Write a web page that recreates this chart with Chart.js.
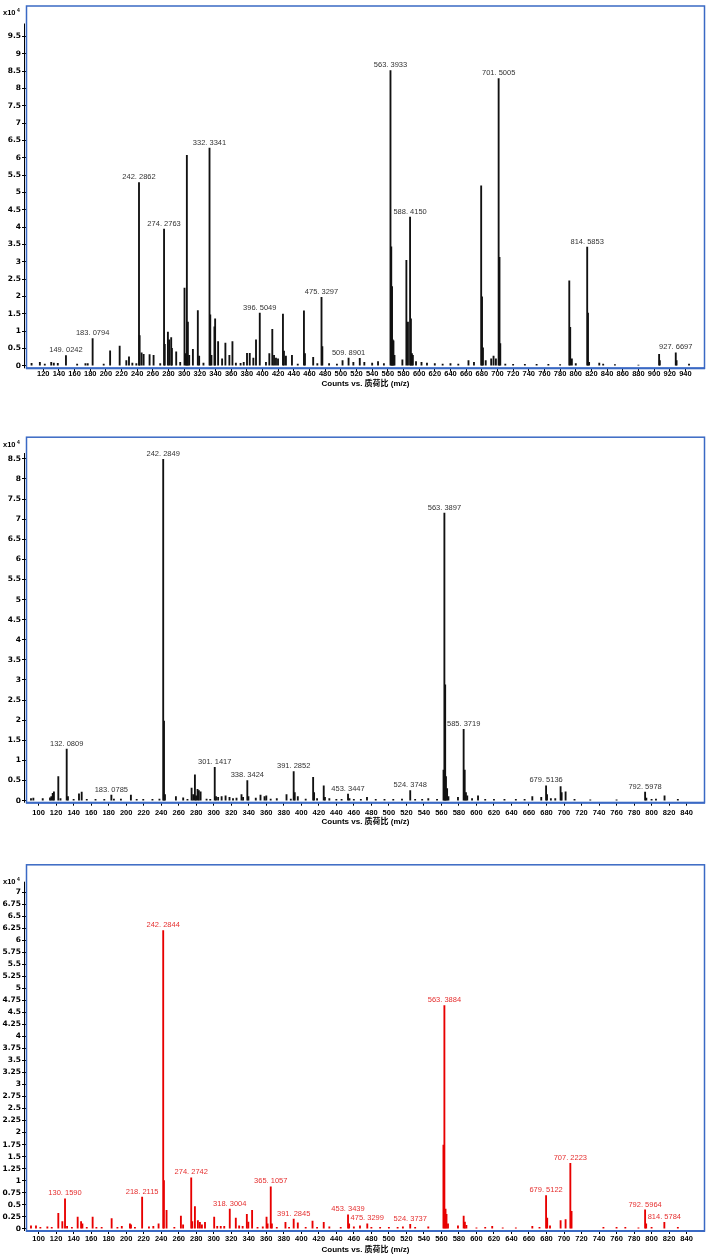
<!DOCTYPE html>
<html>
<head>
<meta charset="utf-8">
<script src="https://cdn.jsdelivr.net/npm/chart.js@4.4.1/dist/chart.umd.min.js"></script>
<style>
  html, body { margin: 0; padding: 0; background: #fff; }
  #page { position: relative; width: 709px; height: 1259px; }
  canvas { position: absolute; left: 0; }
</style>
</head>
<body>
<div id="page">
  <canvas id="ms1" width="709" height="395" style="top:0px"></canvas>
  <canvas id="ms2" width="709" height="435" style="top:395px"></canvas>
  <canvas id="ms3" width="709" height="429" style="top:830px"></canvas>
</div>
<script>
// ---- spectrum 1 (black, x up to ~960) ----
const mz1 = [105.1, 115.7, 122, 130.2, 133.5, 138.6, 149.0242, 163.3, 173.9, 176.8, 183.0794, 197.2, 205.4, 217.6,
  226.1, 229.5, 233.8, 238.9, 242.2862, 243.1, 245.6, 248.2, 255.8, 260.9, 269.4, 274.2763, 275.2, 279.2, 280.9,
  283.4, 284.3, 289.8, 294.9, 300.4, 302.2, 303.4, 304.7, 306.4, 311.1, 317.4, 319.1, 324.6, 332.3341, 333.3,
  334.8, 338.6, 339.5, 343.3, 348.4, 352.6, 357.7, 361.6, 366, 372, 376, 380.2, 383.7, 388.3, 391.7, 396.5049,
  404.4, 408.7, 412.5, 414.7, 417.2, 419.8, 426.1, 427.4, 429.9, 437.6, 445, 452.9, 454.2, 464.7, 470, 475.3297,
  476.4, 485, 495, 502.2, 509.8901, 516, 524.2, 530, 540, 547.5, 555, 563.3933, 564.4, 565.4, 566.3, 567.2,
  568.5, 578.6, 583.7, 585.7, 588.415, 589.5, 590.8, 592, 596, 603, 610, 620, 630, 640, 650, 663, 670, 679.2,
  680.3, 681.5, 685, 692, 695, 698, 701.5005, 702.6, 703.6, 710, 720, 735, 750, 765, 780, 791.7, 792.9, 795,
  800, 814.5853, 815.6, 817, 830, 835, 850, 880, 906.4, 907.3, 927.6697, 928.7, 944.6];
const int1 = [0.07, 0.1, 0.05, 0.1, 0.08, 0.07, 0.29, 0.05, 0.06, 0.06, 0.78, 0.05, 0.43, 0.57,
  0.15, 0.26, 0.08, 0.06, 5.28, 0.87, 0.37, 0.33, 0.32, 0.3, 0.06, 3.94, 0.62, 0.97, 0.75,
  0.81, 0.5, 0.4, 0.1, 2.24, 0.35, 6.07, 1.26, 0.3, 0.47, 1.59, 0.28, 0.08, 6.28, 1.47,
  0.3, 1.12, 1.35, 0.7, 0.2, 0.65, 0.3, 0.7, 0.08, 0.07, 0.1, 0.36, 0.36, 0.22, 0.75, 1.52,
  0.1, 0.35, 1.05, 0.3, 0.22, 0.2, 1.49, 0.42, 0.28, 0.3, 0.05, 1.58, 0.35, 0.24, 0.06, 1.97,
  0.55, 0.06, 0.05, 0.15, 0.22, 0.1, 0.21, 0.1, 0.08, 0.12, 0.06, 8.51, 3.43, 2.28, 0.75, 0.72,
  0.3, 0.17, 3.04, 1.26, 4.29, 1.35, 0.35, 0.3, 0.12, 0.1, 0.08, 0.06, 0.05, 0.06, 0.05, 0.15, 0.1, 5.19,
  1.99, 0.52, 0.15, 0.2, 0.28, 0.2, 8.28, 3.13, 0.64, 0.05, 0.04, 0.04, 0.04, 0.04, 0.03, 2.45, 1.11, 0.2,
  0.06, 3.42, 1.52, 0.1, 0.08, 0.05, 0.03, 0.02, 0.33, 0.15, 0.37, 0.15, 0.05];
const peaks1 = [149.0242, 183.0794, 242.2862, 274.2763, 332.3341, 396.5049, 475.3297, 509.8901, 563.3933,
  588.415, 701.5005, 814.5853, 927.6697];
const xTicks1 = [120, 140, 160, 180, 200, 220, 240, 260, 280, 300, 320, 340, 360, 380, 400, 420, 440, 460,
  480, 500, 520, 540, 560, 580, 600, 620, 640, 660, 680, 700, 720, 740, 760, 780, 800, 820, 840, 860, 880,
  900, 920, 940];
const yTicks1 = [0, 0.5, 1, 1.5, 2, 2.5, 3, 3.5, 4, 4.5, 5, 5.5, 6, 6.5, 7, 7.5, 8, 8.5, 9, 9.5];

// ---- spectrum 2 (black, x up to ~860) ----
const mz2 = [91.3, 94, 104.7, 113, 114.5, 116.1, 117.5, 122.5, 125, 132.0809, 133.5, 140, 146.1, 149.2, 155,
  165, 175, 183.0785, 186, 194, 205.4, 212, 219.5, 230, 238, 242.2849, 243.2, 244.3, 256.8, 265.1, 270,
  274.7, 276.5, 278.5, 279.8, 281.5, 283, 285, 291.8, 296, 301.1417, 302.6, 305, 309, 313.5, 318, 322, 326,
  331.7, 333.5, 338.3424, 339.6, 348, 353.4, 358, 360, 365, 372, 383.1, 388, 391.2852, 392.5, 396, 405,
  413.5, 414.6, 418, 425.6, 427, 432, 440, 446, 453.3447, 455, 460, 468, 475, 485, 495, 505, 515, 524.3748,
  530, 538, 545, 555, 562.4, 563.3897, 564.3, 565.2, 566.5, 568, 578.9, 585.3719, 586.6, 588, 589.5, 595,
  601.8, 610, 620, 632, 645, 655, 663.8, 674, 679.5136, 680.6, 685, 690, 696.1, 697.3, 701.8, 712, 730, 760,
  792.5978, 794, 800, 805, 814.8, 830];
const int2 = [0.05, 0.06, 0.05, 0.07, 0.1, 0.18, 0.22, 0.6, 0.05, 1.28, 0.1, 0.03, 0.17, 0.21, 0.03,
  0.03, 0.03, 0.14, 0.04, 0.04, 0.14, 0.03, 0.03, 0.03, 0.04, 8.49, 1.98, 0.15, 0.1, 0.07, 0.03,
  0.31, 0.15, 0.64, 0.12, 0.28, 0.25, 0.22, 0.04, 0.03, 0.83, 0.1, 0.08, 0.1, 0.12, 0.08, 0.05, 0.06,
  0.15, 0.08, 0.5, 0.1, 0.06, 0.14, 0.1, 0.12, 0.04, 0.05, 0.15, 0.04, 0.72, 0.2, 0.1, 0.04,
  0.58, 0.2, 0.05, 0.37, 0.08, 0.05, 0.03, 0.03, 0.16, 0.05, 0.03, 0.03, 0.08, 0.03, 0.03, 0.03, 0.04, 0.25,
  0.03, 0.03, 0.05, 0.03, 0.76, 7.15, 2.88, 0.6, 0.3, 0.1, 0.08, 1.77, 0.76, 0.2, 0.12, 0.05,
  0.12, 0.03, 0.03, 0.03, 0.03, 0.03, 0.1, 0.08, 0.37, 0.15, 0.05, 0.05, 0.35, 0.2, 0.22, 0.03, 0.02, 0.02,
  0.21, 0.06, 0.03, 0.04, 0.12, 0.03];
const peaks2 = [132.0809, 183.0785, 242.2849, 301.1417, 338.3424, 391.2852, 453.3447, 524.3748, 563.3897,
  585.3719, 679.5136, 792.5978];
const xTicks2 = [100, 120, 140, 160, 180, 200, 220, 240, 260, 280, 300, 320, 340, 360, 380, 400, 420, 440,
  460, 480, 500, 520, 540, 560, 580, 600, 620, 640, 660, 680, 700, 720, 740, 760, 780, 800, 820, 840];
const yTicks2 = [0, 0.5, 1, 1.5, 2, 2.5, 3, 3.5, 4, 4.5, 5, 5.5, 6, 6.5, 7, 7.5, 8, 8.5];

// ---- spectrum 3 (red) ----
const mz3 = [91.3, 97, 102, 110, 115, 122.5, 127.1, 130.159, 132.5, 138, 144.6, 148.5, 150, 155, 161.7, 166,
  172, 183.4, 190, 195, 204.3, 205.5, 210, 218.2115, 226, 231, 237, 242.2844, 243.1, 246.1, 255, 262.5, 265,
  274.2742, 275.5, 278.5, 281.9, 284.2, 286.5, 290, 300.5, 304, 308, 312, 318.3004, 325.2, 329, 333, 337.8,
  339.5, 343.8, 350, 356, 360.3, 361.5, 365.1057, 366.4, 372, 381.9, 386, 391.2845, 396, 405, 412.8, 418,
  425.6, 432, 445, 453.3439, 454.6, 460, 467, 475.3299, 480, 490, 500, 510, 516, 524.3737, 530, 545, 562.3,
  563.3884, 564.7, 565.8, 567.5, 578.9, 585.4, 586.8, 588.5, 600, 610, 618, 630, 645, 663.8, 672, 679.5122,
  680.8, 684, 696.1, 701.8, 707.2223, 708.6, 745, 760, 770, 785, 792.5964, 793.8, 800, 814.5784, 830];
const int3 = [0.06, 0.06, 0.03, 0.04, 0.03, 0.32, 0.15, 0.62, 0.05, 0.03, 0.24, 0.15, 0.1, 0.03, 0.24, 0.03,
  0.03, 0.21, 0.03, 0.05, 0.1, 0.08, 0.03, 0.66, 0.04, 0.05, 0.1, 6.2, 1.0, 0.38, 0.03, 0.26, 0.08,
  1.06, 0.15, 0.46, 0.17, 0.13, 0.08, 0.13, 0.24, 0.05, 0.05, 0.05, 0.41, 0.22, 0.06, 0.05, 0.3,
  0.14, 0.38, 0.03, 0.04, 0.24, 0.1, 0.87, 0.1, 0.03, 0.13, 0.03, 0.2, 0.12, 0.03, 0.16, 0.03,
  0.13, 0.04, 0.03, 0.29, 0.1, 0.04, 0.06, 0.1, 0.03, 0.03, 0.03, 0.03, 0.04, 0.09, 0.03, 0.04, 1.74,
  4.64, 0.41, 0.3, 0.1, 0.06, 0.26, 0.14, 0.07, 0.02, 0.03, 0.05, 0.02, 0.02, 0.05, 0.03, 0.69,
  0.22, 0.06, 0.17, 0.19, 1.36, 0.36, 0.03, 0.03, 0.03, 0.02, 0.39, 0.1, 0.03, 0.13, 0.03];
const peaks3 = [130.159, 218.2115, 242.2844, 274.2742, 318.3004, 365.1057, 391.2845, 453.3439, 475.3299,
  524.3737, 563.3884, 679.5122, 707.2223, 792.5964, 814.5784];
const xTicks3 = xTicks2;
const yTicks3 = [0, 0.25, 0.5, 0.75, 1, 1.25, 1.5, 1.75, 2, 2.25, 2.5, 2.75, 3, 3.25, 3.5, 3.75, 4, 4.25,
  4.5, 4.75, 5, 5.25, 5.5, 5.75, 6, 6.25, 6.5, 6.75, 7];

const AXIS_TITLE = 'Counts vs. 质荷比 (m/z)';
const FRAME_BLUE = '#3a69c4';
const TICK_FONT = "'Liberation Sans', Arial, sans-serif";
const Y_FONT = "'DejaVu Sans', sans-serif";

const fmtPeak = (v) => v.toFixed(4).replace('.', '. ');

const makeDecor = (p) => ({
  id: 'decor',
  afterDraw(chart) {
    const { ctx, chartArea: a, scales: { x, y } } = chart;
    ctx.save();
    // black y axis line
    ctx.strokeStyle = '#000';
    ctx.lineWidth = 1;
    ctx.beginPath();
    ctx.moveTo(a.left - 1.5, a.top + p.axisTop);
    ctx.lineTo(a.left - 1.5, a.bottom);
    ctx.stroke();
    // blue frame
    ctx.strokeStyle = FRAME_BLUE;
    ctx.lineWidth = 1.5;
    ctx.strokeRect(a.left + 0.5, a.top + 0.5, a.right - a.left - 1, a.bottom - a.top - 0.5);
    ctx.lineWidth = 2;
    ctx.beginPath();
    ctx.moveTo(a.left, a.bottom);
    ctx.lineTo(a.right, a.bottom);
    ctx.stroke();
    // peak annotations
    ctx.font = `7.5px ${TICK_FONT}`;
    ctx.fillStyle = p.labelColor;
    ctx.textAlign = 'center';
    ctx.textBaseline = 'middle';
    p.peaks.forEach((m) => {
      const i = p.mz.indexOf(m);
      const px = x.getPixelForValue(m);
      const py = y.getPixelForValue(p.values[i]) - 5.5;
      ctx.fillText(fmtPeak(m), px, py);
    });
    // x10^4 exponent
    ctx.fillStyle = '#000';
    ctx.textAlign = 'left';
    ctx.font = `bold 7.5px ${TICK_FONT}`;
    ctx.fillText('x10', 3, a.top + p.expTop);
    ctx.font = `bold 5px ${TICK_FONT}`;
    ctx.fillText('4', 17, a.top + p.expTop - 2);
    ctx.restore();
  },
});

const drawSpectrum = (id, p) => {
  const points = p.mz.map((m, i) => ({ x: m, y: p.values[i] }));
  return new Chart(document.getElementById(id), {
    type: 'bar',
    data: {
      datasets: [{
        data: points,
        backgroundColor: p.color,
        borderWidth: 0,
        barThickness: 1.2,
      }],
    },
    options: {
      responsive: false,
      animation: false,
      layout: { padding: { top: p.padTop, right: 4, left: 0, bottom: 0 } },
      plugins: { legend: { display: false }, tooltip: { enabled: false } },
      scales: {
        x: {
          type: 'linear',
          offset: false,
          min: p.xMin,
          max: p.xMax,
          afterBuildTicks: (s) => { s.ticks = p.xTicks.map((v) => ({ value: v })); },
          afterFit: (s) => { s.height = p.xHeight; },
          border: { display: false },
          grid: { offset: false, drawOnChartArea: false, drawTicks: true, tickLength: 3, color: '#000' },
          ticks: {
            autoSkip: false, maxRotation: 0, minRotation: 0, padding: p.xPad, color: '#000',
            font: { family: TICK_FONT, size: 7.5, weight: 'bold' },
            callback: (v) => String(v),
          },
          title: {
            display: true, text: AXIS_TITLE, color: '#000',
            font: { family: "'Liberation Sans', 'Noto Sans CJK SC', sans-serif", size: 8, weight: 'bold' },
            padding: { top: 0, bottom: p.titlePad },
          },
        },
        y: {
          min: p.yMin,
          max: p.yMax,
          afterBuildTicks: (s) => { s.ticks = p.yTicks.map((v) => ({ value: v })); },
          afterFit: (s) => { s.width = 26; },
          border: { display: false },
          grid: { drawOnChartArea: false, drawTicks: true, tickLength: 4, color: '#000' },
          ticks: {
            padding: 1, color: '#000',
            font: { family: Y_FONT, size: 7.5, weight: 'bold' },
            callback: (v) => String(v),
          },
        },
      },
    },
    plugins: [makeDecor(p)],
  });
};

drawSpectrum('ms1', {
  mz: mz1, values: int1, peaks: peaks1, xTicks: xTicks1, yTicks: yTicks1,
  xMin: 98, xMax: 965, yMin: -0.074, yMax: 10.39,
  padTop: 2, xHeight: 26.7, xPad: -2, titlePad: 6,
  axisTop: 18, expTop: 7.5,
  color: '#111', labelColor: '#333',
});

drawSpectrum('ms2', {
  mz: mz2, values: int2, peaks: peaks2, xTicks: xTicks2, yTicks: yTicks2,
  xMin: 85.6, xMax: 861, yMin: -0.052, yMax: 9.05,
  padTop: 41.7, xHeight: 27.3, xPad: 3, titlePad: 3,
  axisTop: 16.3, expTop: 7.8,
  color: '#111', labelColor: '#333',
});

drawSpectrum('ms3', {
  mz: mz3, values: int3, peaks: peaks3, xTicks: xTicks3, yTicks: yTicks3,
  xMin: 85.6, xMax: 861, yMin: -0.048, yMax: 7.58,
  padTop: 34.3, xHeight: 28, xPad: 0.5, titlePad: 4.2,
  axisTop: 17.4, expTop: 17.2,
  color: '#e80000', labelColor: '#e53030',
});
</script>
</body>
</html>
